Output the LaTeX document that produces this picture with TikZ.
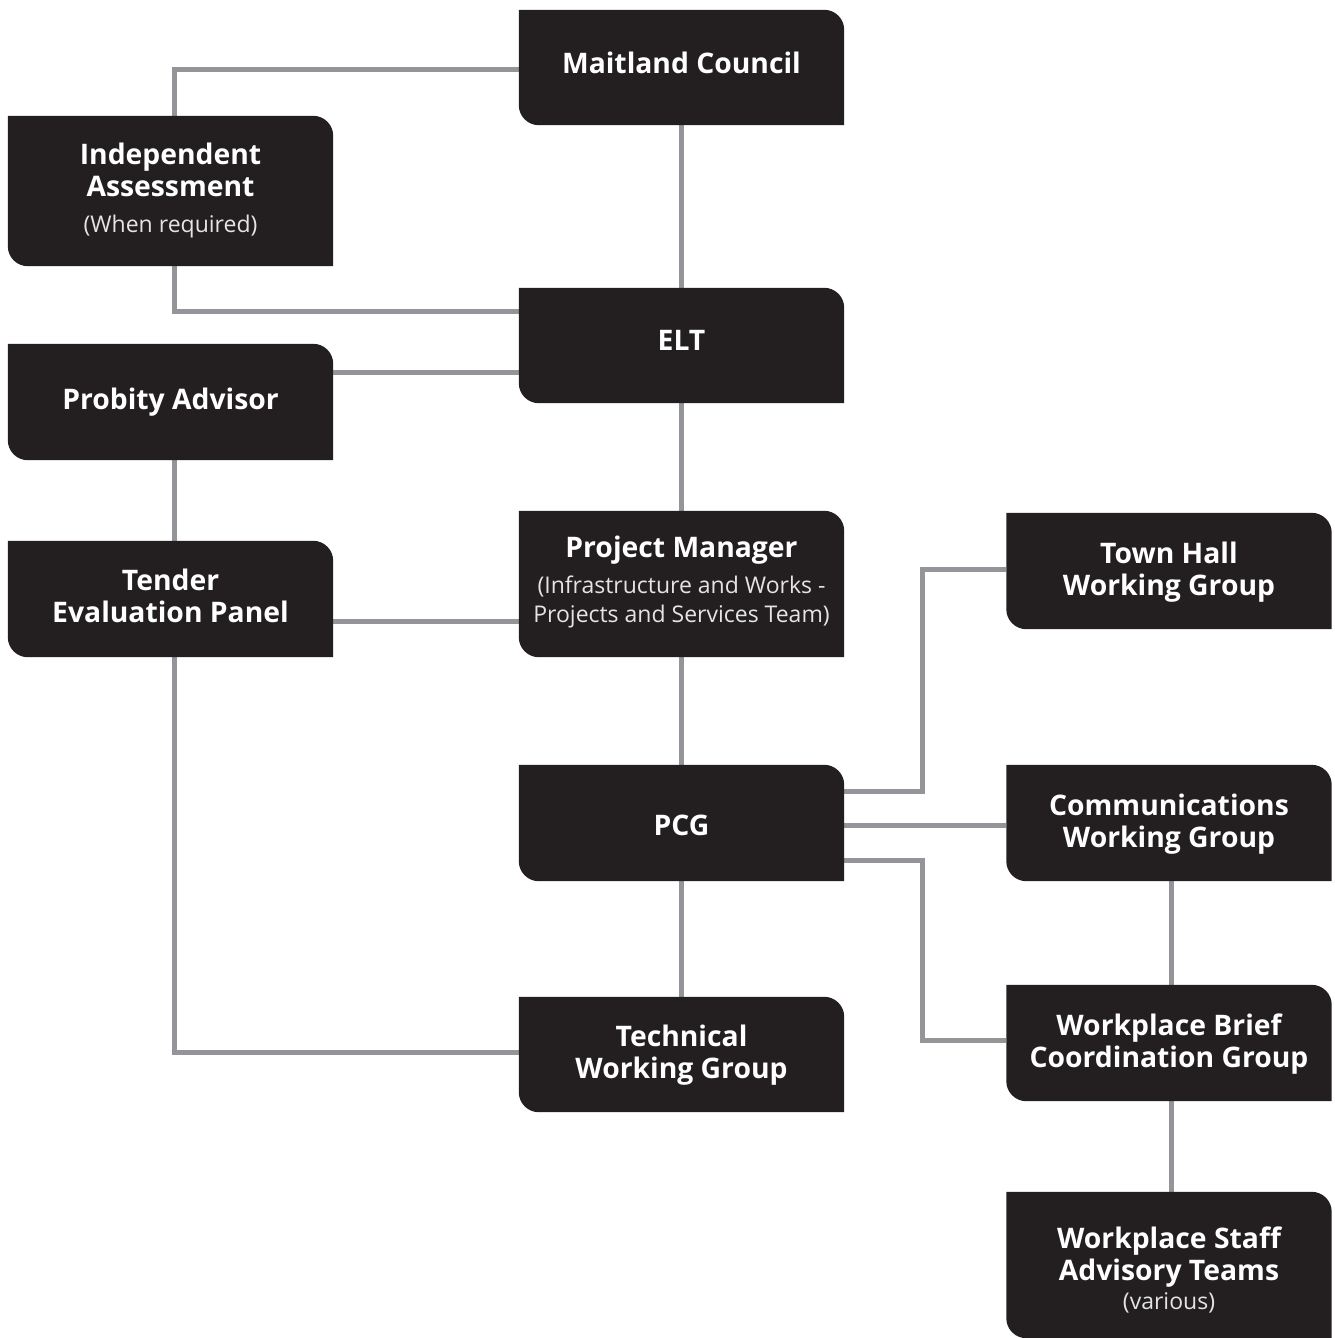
\documentclass[tikz,border=0pt]{standalone}
\usepackage{fontspec}
\setmainfont{Open Sans}
\usetikzlibrary{calc}
\definecolor{cardfill}{HTML}{231F20}
\definecolor{wire}{HTML}{939598}
\definecolor{subtxt}{HTML}{E4E4E4}
\pgfdeclarelayer{wires}
\pgfdeclarelayer{cards}
\pgfsetlayers{wires,cards,main}
\newcommand\subline[1]{{\fontsize{23}{28}\selectfont\mdseries\color{subtxt}#1}}
\newcommand\cardbg[1]{\fill[cardfill] (#1.north west) -- ([xshift=-20pt]#1.north east) arc[start angle=90,end angle=0,radius=20pt] -- (#1.south east) -- ([xshift=20pt]#1.south west) arc[start angle=270,end angle=180,radius=20pt] -- cycle;}
\tikzset{
  card/.style={rectangle, minimum width=325pt, minimum height=116pt, inner sep=0pt},
  cardtext/.style={inner sep=0pt, text=white, align=center, font=\fontsize{28.3}{32}\selectfont\bfseries},
  wireline/.style={draw=wire, line width=5pt}
}
\begin{document}
\begin{tikzpicture}[x=1pt,y=1pt]
\useasboundingbox (0,0) rectangle (1334,-1338);
% boxes
\node[card, minimum height=115pt] (mc) at (681.5,-67.5) {};
\node[card, minimum height=150pt] (ia) at (170.5,-191) {};
\node[card, minimum height=115pt] (elt) at (681.5,-345.5) {};
\node[card] (pa) at (170.5,-402) {};
\node[card] (tep) at (170.5,-599) {};
\node[card, minimum height=146pt] (pm) at (681.5,-584) {};
\node[card] (th) at (1169,-571) {};
\node[card] (pcg) at (681.5,-823) {};
\node[card] (cwg) at (1169,-823) {};
\node[card, minimum height=115pt] (twg) at (681.5,-1054.5) {};
\node[card] (wb) at (1169,-1043) {};
\node[card, minimum height=146pt] (ws) at (1169,-1265) {};
% texts
\node[cardtext] (mct) at ([yshift=5pt]mc.center) {Maitland Council};
\node[cardtext] (iat) at ([yshift=0.5pt]ia.center) {Independent\\Assessment\\[4pt]\subline{(When required)}};
\node[cardtext] (eltt) at ([yshift=5pt]elt.center) {ELT};
\node[cardtext] (pat) at ([yshift=-0.5pt]pa.center) {Probity Advisor};
\node[cardtext] (tept) at ([yshift=3pt]tep.center) {Tender\\Evaluation Panel};
\node[cardtext] (pmt) at ([yshift=1.5pt]pm.center) {Project Manager\\[4pt]\subline{(Infrastructure and Works -}\\[-3pt]\subline{Projects and Services Team)}};
\node[cardtext] (tht) at ([yshift=-1pt]th.center) {Town Hall\\Working Group};
\node[cardtext] (cwgt) at ([yshift=-1pt]cwg.center) {Communications\\Working Group};
\node[cardtext] (pcgt) at ([yshift=-2pt]pcg.center) {PCG};
\node[cardtext] (twgt) at ([yshift=-1pt]twg.center) {Technical\\Working Group};
\node[cardtext] (wbt) at ([yshift=-1pt]wb.center) {Workplace Brief\\Coordination Group};
\node[cardtext] (wst) at ([yshift=-4.5pt]ws.center) {Workplace Staff\\Advisory Teams\\[-3pt]\subline{(various)}};
% card backgrounds
\begin{pgfonlayer}{cards}
\foreach \n in {mc,ia,elt,pa,tep,pm,th,pcg,cwg,twg,wb,ws}{\cardbg{\n}}
\end{pgfonlayer}
% connectors
\begin{pgfonlayer}{wires}
\draw[wireline] ([yshift=-2.5pt]mc.west) -| ([xshift=3.5pt]ia.north);
\draw[wireline] ([xshift=3.5pt]ia.south) |- ([yshift=34.5pt]elt.west);
\draw[wireline] (mc.south) -- (elt.north);
\draw[wireline] ([yshift=30pt]pa.east) -- ([yshift=30pt]pa.east -| elt.west);
\draw[wireline] (elt.south) -- (pm.north);
\draw[wireline] ([xshift=3.5pt]pa.south) -- ([xshift=3.5pt]tep.north);
\draw[wireline] ([yshift=-22pt]tep.east) -- ([yshift=-22pt]tep.east -| pm.west);
\draw[wireline] (pm.south) -- (pcg.north);
\draw[wireline] ([yshift=32pt]pcg.east) -- ++(78,0) |- ([yshift=2pt]th.west);
\draw[wireline] ([yshift=-2pt]pcg.east) -- ([yshift=-2pt]pcg.east -| cwg.west);
\draw[wireline] ([yshift=-37pt]pcg.east) -- ++(78,0) |- ([yshift=3pt]wb.west);
\draw[wireline] ([xshift=3.5pt]tep.south) |- ([yshift=2.5pt]twg.west);
\draw[wireline] (pcg.south) -- (twg.north);
\draw[wireline] ([xshift=2pt]cwg.south) -- ([xshift=2pt]wb.north);
\draw[wireline] ([xshift=2pt]wb.south) -- ([xshift=2pt]ws.north);
\end{pgfonlayer}
\end{tikzpicture}
\end{document}
